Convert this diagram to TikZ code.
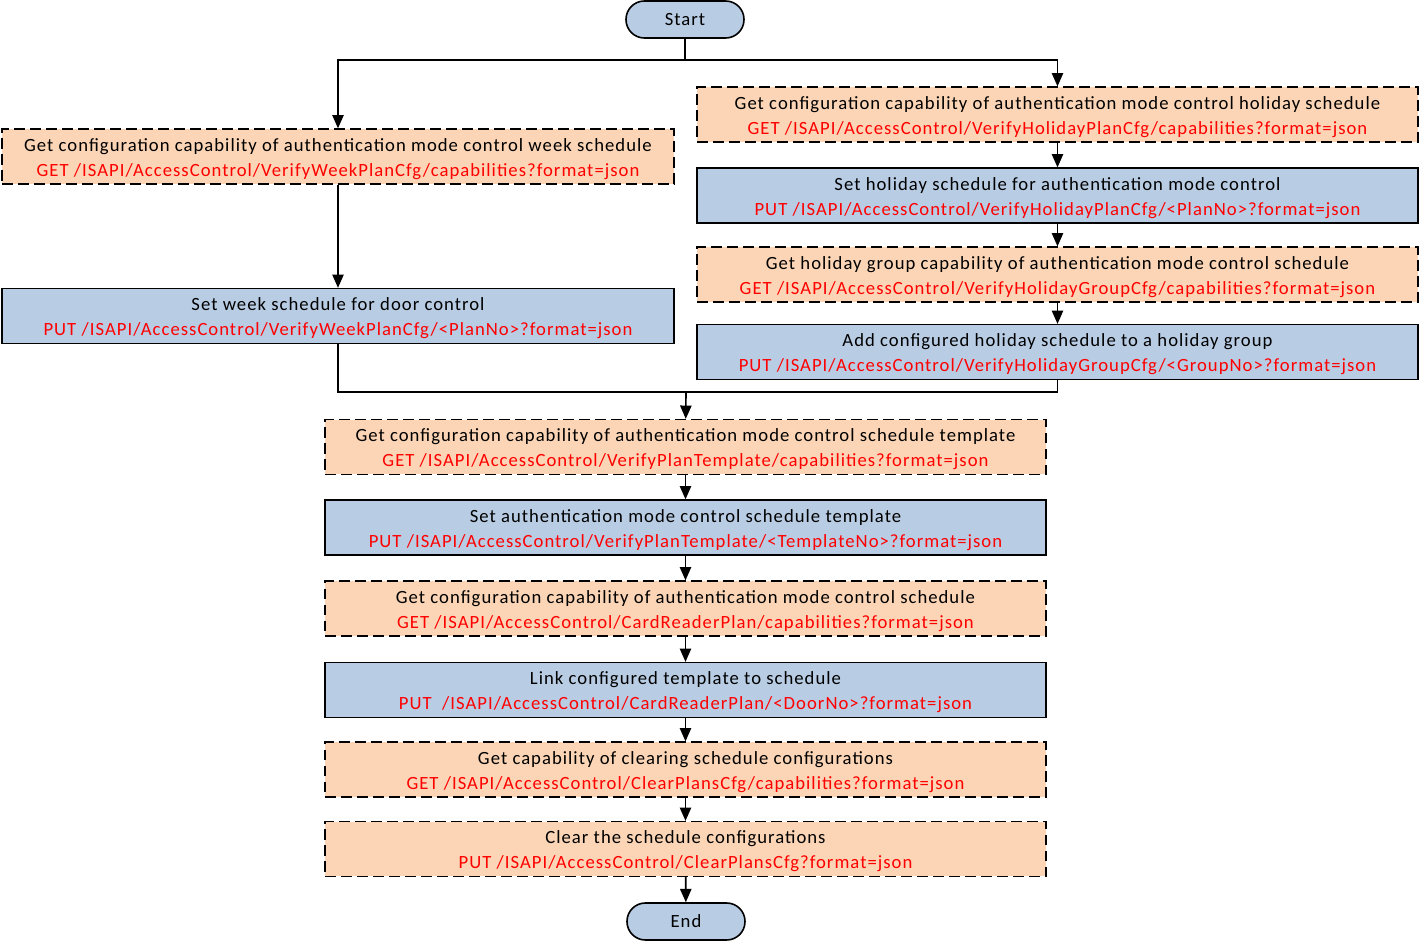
\documentclass[tikz,border=0pt]{standalone}
\usepackage{fontspec}
\setmainfont{Carlito}[LetterSpace=5.5]
\usepackage{xcolor}
\usetikzlibrary{arrows.meta}
\definecolor{peach}{HTML}{FBD5B5}
\definecolor{steel}{HTML}{B8CCE4}
\definecolor{apired}{HTML}{FF0000}
\begin{document}
\begin{tikzpicture}[x=0.75pt,y=-0.75pt,
  base/.style={draw=black, line width=1.2pt, align=center, inner sep=0pt,
    font=\fontsize{14}{18.75}\selectfont},
  getbox/.style={base, fill=peach, dash pattern=on 8pt off 4pt},
  putbox/.style={base, fill=steel},
  wide/.style={minimum width=540.75pt, minimum height=41pt},
  narrow/.style={minimum width=504pt, minimum height=41pt},
  term/.style={base, fill=steel, minimum width=88.5pt, minimum height=27.75pt, rounded corners=13.8pt},
  arr/.style={line width=1.2pt, -{Triangle[length=10pt,width=8.5pt]}},
  ln/.style={line width=1.2pt}]
\useasboundingbox (0,0) rectangle (1421,945);
\newcommand{\api}[1]{\\\textcolor{apired}{#1}}
\newcommand{\up}{\rule{0pt}{13.5pt}}

\node[term] (start) at (685,19.5) {Start};
\node[term] (end) at (686,921.5) {End};

\node[getbox,narrow] (wg) at (338,156.5) {\up Get configuration capability of authentication mode control week schedule\api{GET /ISAPI/AccessControl/VerifyWeekPlanCfg/capabilities?format=json}};
\node[putbox,narrow] (wp) at (338,316) {\up Set week schedule for door control\api{PUT /ISAPI/AccessControl/VerifyWeekPlanCfg/<PlanNo>?format=json}};

\node[getbox,wide] (hg) at (1057.5,114.5) {\up Get configuration capability of authentication mode control holiday schedule\api{GET /ISAPI/AccessControl/VerifyHolidayPlanCfg/capabilities?format=json}};
\node[putbox,wide] (hp) at (1057.5,195.5) {\up Set holiday schedule for authentication mode control\api{PUT /ISAPI/AccessControl/VerifyHolidayPlanCfg/<PlanNo>?format=json}};
\node[getbox,wide] (hgg) at (1057.5,274.5) {\up Get holiday group capability of authentication mode control schedule\api{GET /ISAPI/AccessControl/VerifyHolidayGroupCfg/capabilities?format=json}};
\node[putbox,wide] (hgp) at (1057.5,352) {\up Add configured holiday schedule to a holiday group\api{PUT /ISAPI/AccessControl/VerifyHolidayGroupCfg/<GroupNo>?format=json}};

\node[getbox,wide] (tg) at (685.5,447) {\up Get configuration capability of authentication mode control schedule template\api{GET /ISAPI/AccessControl/VerifyPlanTemplate/capabilities?format=json}};
\node[putbox,wide] (tp) at (685.5,527.5) {\up Set authentication mode control schedule template\api{PUT /ISAPI/AccessControl/VerifyPlanTemplate/<TemplateNo>?format=json}};
\node[getbox,wide] (sg) at (685.5,608.5) {\up Get configuration capability of authentication mode control schedule\api{GET /ISAPI/AccessControl/CardReaderPlan/capabilities?format=json}};
\node[putbox,wide] (sp) at (685.5,690) {\up Link configured template to schedule\api{PUT\ \ /ISAPI/AccessControl/CardReaderPlan/<DoorNo>?format=json}};
\node[getbox,wide] (cg) at (685.5,769.5) {\up Get capability of clearing schedule configurations\api{GET /ISAPI/AccessControl/ClearPlansCfg/capabilities?format=json}};
\node[getbox,wide] (cp) at (685.5,849) {\up Clear the schedule configurations\api{PUT /ISAPI/AccessControl/ClearPlansCfg?format=json}};

\coordinate (split) at (685,60);
\coordinate (join) at (686,392);

\draw[ln] (start) -- (split);
\draw[arr] (split) -| (wg);
\draw[arr] (split) -| (hg);
\draw[arr] (wg) -- (wp);
\draw[arr] (hg) -- (hp);
\draw[arr] (hp) -- (hgg);
\draw[arr] (hgg) -- (hgp);
\draw[ln] (wp.south) |- (join);
\draw[ln] (hgp.south) |- (join);
\draw[arr] (join) -- (tg);
\draw[arr] (tg) -- (tp);
\draw[arr] (tp) -- (sg);
\draw[arr] (sg) -- (sp);
\draw[arr] (sp) -- (cg);
\draw[arr] (cg) -- (cp);
\draw[arr] (cp) -- (end);
\end{tikzpicture}
\end{document}
